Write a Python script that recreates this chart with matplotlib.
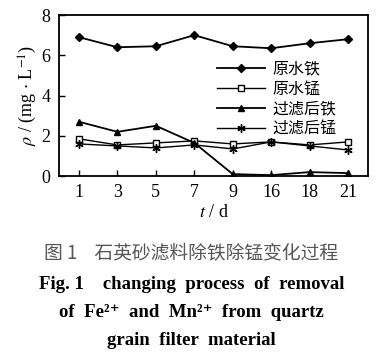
import matplotlib.pyplot as plt
import numpy as np

plt.rcParams['font.family'] = ['Liberation Serif', 'DejaVu Serif', 'Noto Sans CJK SC']
plt.rcParams['mathtext.fontset'] = 'stix'

days = ['1', '3', '5', '7', '9', '16', '18', '21']
raw_fe = [6.9, 6.4, 6.45, 7.0, 6.45, 6.35, 6.6, 6.8]
raw_mn = [1.85, 1.55, 1.65, 1.75, 1.6, 1.7, 1.55, 1.7]
out_fe = [2.7, 2.2, 2.5, 1.65, 0.1, 0.05, 0.2, 0.15]
out_mn = [1.6, 1.5, 1.4, 1.55, 1.35, 1.7, 1.5, 1.3]
labels = ['原水铁', '原水锰', '过滤后铁', '过滤后锰']

fig = plt.figure(figsize=(3.83, 3.58), dpi=100)
ax = fig.add_axes([0.154, 0.508, 0.807, 0.45])
x = np.arange(len(days))

ax.plot(x, raw_fe, color='k', lw=1.3, marker='D', ms=4, label=labels[0])
ax.plot(x, raw_mn, color='k', lw=1.0, marker='s', ms=5, mfc='white', label=labels[1])
ax.plot(x, out_fe, color='k', lw=1.3, marker='^', ms=5, label=labels[2])
ax.plot(x, out_mn, color='k', lw=1.0, marker=(6, 2, 0), ms=6, label=labels[3])

ax.set_xlim(-0.52, 7.52)
ax.set_ylim(0, 8)
ax.set_xticks(x, days)
ax.set_yticks([0, 2, 4, 6, 8])
ax.tick_params(direction='in', labelsize=13, length=4, width=1, pad=6)
for s in ax.spines.values():
    s.set_linewidth(1.3)

ax.set_xlabel('$t$ / d', fontsize=13, labelpad=2)
ax.set_ylabel(r'$\rho$ / (mg $\cdot$ L$^{-1}$)', fontsize=13, labelpad=2)

leg = ax.legend(loc='upper left', bbox_to_anchor=(0.51, 0.72), frameon=False,
                handlelength=3.0, handletextpad=0.5, labelspacing=0.2,
                borderaxespad=0, borderpad=0,
                prop={'family': ['Noto Sans CJK SC'], 'size': 11.5})

fig.text(0.5, 0.293, '图 1    石英砂滤料除铁除锰变化过程', ha='center', va='center',
         fontsize=13.5, color='#555555', family=['Noto Sans CJK SC'])
fig.text(0.5, 0.204, 'Fig. 1    changing  process  of  removal', ha='center', va='center',
         fontsize=13.5, weight='bold')
fig.text(0.5, 0.128, 'of  Fe²⁺  and  Mn²⁺  from  quartz', ha='center', va='center',
         fontsize=13.5, weight='bold')
fig.text(0.5, 0.05, 'grain  filter  material', ha='center', va='center',
         fontsize=13.5, weight='bold')

plt.savefig('out.png', dpi=100)
